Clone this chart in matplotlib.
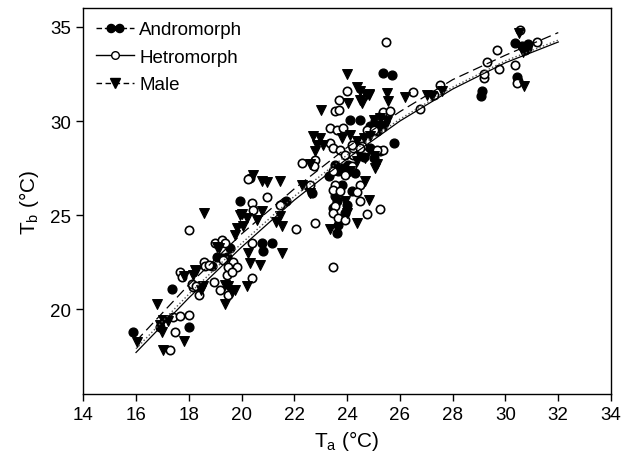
import matplotlib
matplotlib.use("Agg")
import matplotlib.pyplot as plt
from matplotlib.lines import Line2D
from matplotlib.path import Path

plt.rcParams['font.family'] = ['Liberation Sans', 'DejaVu Sans']
plt.rcParams['mathtext.default'] = 'regular'

# --- data (Ta, Tb in deg C) ---
andro_ta = [15.89, 16.92, 17.99, 17.36, 18.87, 19.06, 19.25, 19.44, 19.57, 19.95,
            20.77, 21.14, 20.83, 21.69, 22.66, 23.55, 23.67, 23.86, 24.05, 24.11,
            24.47, 24.87, 25.06, 25.22, 25.12, 25.78, 25.37, 25.69, 23.55, 23.61,
            23.48, 23.67, 23.61, 23.99, 23.92, 24.30, 24.36, 24.62, 24.87, 25.00,
            25.25, 23.80, 24.20, 23.30, 29.10, 29.06, 30.45, 30.48, 30.36, 30.61,
            30.74, 30.83, 30.87]
andro_tb = [18.78, 19.08, 19.08, 21.08, 22.32, 22.75, 22.71, 22.80, 23.24, 25.76,
            23.51, 23.51, 23.10, 25.76, 26.17, 27.68, 27.33, 27.50, 27.68, 30.07,
            30.07, 29.72, 29.98, 29.80, 29.45, 28.83, 32.55, 32.43, 26.00, 25.73,
            25.37, 24.48, 24.04, 25.55, 25.10, 27.23, 28.21, 28.07, 28.56, 28.03,
            28.39, 26.60, 26.30, 27.10, 31.58, 31.31, 32.32, 32.11, 34.15, 33.97,
            33.79, 33.88, 34.10]

hetro_ta = [17.30, 17.48, 17.40, 17.65, 17.99, 17.67, 17.74, 17.99, 18.15, 18.37,
            18.12, 18.28, 18.58, 18.62, 18.75, 19.00, 19.25, 19.38, 19.30, 18.94,
            19.19, 19.50, 19.44, 19.69, 19.82, 19.50, 19.63, 20.39, 20.43, 20.96,
            20.39, 20.39, 20.33, 20.26, 21.46, 22.28, 22.53, 22.07, 22.79, 23.48,
            22.60, 22.79, 22.75, 23.99, 23.71, 23.55, 23.71, 23.36, 23.61, 23.86,
            23.36, 23.48, 23.73, 23.92, 24.24, 24.24, 24.55, 24.74, 25.00, 25.48,
            25.37, 25.63, 25.19, 26.48, 27.29, 27.50, 26.77, 23.48, 23.55, 23.48,
            23.73, 23.55, 23.48, 23.67, 23.92, 24.49, 24.76, 25.25, 24.49, 24.36,
            24.18, 23.92, 24.49, 24.18, 25.37, 25.12, 29.17, 29.17, 29.29, 29.69,
            29.77, 30.36, 30.45, 30.55, 31.18]
hetro_tb = [17.84, 18.78, 19.60, 19.66, 19.70, 22.00, 21.73, 24.22, 21.20, 20.76,
            21.33, 21.21, 22.53, 22.32, 22.36, 23.50, 23.69, 23.50, 22.60, 21.47,
            21.03, 20.76, 21.82, 22.53, 22.22, 22.22, 22.00, 25.64, 25.28, 25.94,
            23.51, 21.65, 26.97, 26.94, 25.55, 27.77, 26.53, 24.28, 24.57, 22.22,
            26.62, 27.94, 27.59, 31.58, 31.13, 30.51, 30.60, 29.63, 29.54, 29.63,
            28.83, 28.56, 28.47, 28.21, 28.21, 28.56, 28.65, 29.54, 29.54, 34.20,
            30.48, 30.51, 30.20, 31.52, 31.40, 31.90, 30.64, 27.33, 26.62, 26.35,
            26.26, 25.46, 25.10, 24.84, 24.75, 25.73, 25.05, 25.34, 26.62, 26.22,
            27.59, 27.14, 28.56, 28.74, 28.47, 28.47, 32.29, 32.50, 33.14, 33.76,
            32.76, 33.00, 32.02, 34.86, 34.20]

male_ta = [16.03, 17.02, 16.79, 16.98, 16.92, 17.04, 17.80, 17.23, 17.80, 18.28,
           18.15, 18.58, 18.24, 18.47, 18.53, 19.13, 19.06, 19.38, 19.63, 19.38,
           19.76, 19.50, 20.01, 20.20, 20.77, 20.70, 20.20, 20.33, 20.25, 20.45,
           20.77, 20.98, 21.46, 22.28, 22.60, 21.44, 21.31, 21.52, 19.95, 20.58,
           19.82, 20.07, 19.76, 21.52, 24.01, 23.00, 24.37, 24.49, 24.81, 24.49,
           24.56, 24.05, 24.72, 24.84, 25.50, 25.56, 26.20, 27.02, 27.20, 27.58,
           22.72, 22.98, 22.85, 23.10, 22.79, 23.80, 24.11, 24.36, 24.62, 24.87,
           22.60, 24.11, 24.36, 24.68, 25.00, 25.06, 25.00, 25.25, 25.44, 25.50,
           23.36, 23.92, 24.36, 23.99, 24.81, 24.68, 25.12, 30.70, 30.52, 30.65,
           30.74]
male_tb = [18.24, 17.84, 20.27, 18.81, 19.18, 19.43, 18.30, 19.35, 21.79, 22.03,
           21.82, 25.10, 22.09, 21.03, 21.21, 23.24, 23.33, 21.29, 20.94, 20.27,
           21.03, 21.21, 25.05, 24.84, 25.20, 22.36, 21.21, 22.45, 22.98, 27.15,
           26.79, 26.76, 26.83, 26.62, 26.17, 24.93, 24.66, 24.40, 24.98, 24.75,
           24.31, 24.40, 23.95, 22.98, 32.50, 30.60, 31.79, 31.58, 31.40, 31.13,
           30.96, 30.96, 31.37, 31.44, 31.49, 31.04, 31.26, 31.37, 31.31, 31.61,
           29.18, 29.10, 28.71, 28.71, 28.39, 29.10, 29.27, 28.92, 29.10, 29.18,
           27.70, 27.33, 27.86, 28.03, 28.12, 27.50, 30.07, 30.16, 29.72, 29.98,
           24.27, 25.73, 24.57, 25.10, 25.81, 26.79, 27.71, 31.85, 34.68, 33.67,
           33.88]

# fitted curves, read at a few Ta values
fit_ta = [16, 18, 20, 22, 24, 26, 28, 30, 32]
fit_andro = [17.9, 20.8, 23.5, 26.0, 28.2, 30.1, 31.8, 33.2, 34.3]
fit_hetro = [17.7, 20.6, 23.3, 25.8, 28.0, 30.0, 31.7, 33.1, 34.2]
fit_male = [18.3, 21.3, 24.0, 26.4, 28.6, 30.5, 32.2, 33.5, 34.7]

fig = plt.figure(figsize=(6.21, 4.56), dpi=100)
ax = fig.add_axes([0.134, 0.134, 0.85, 0.846])

ax.scatter(andro_ta, andro_tb, s=40, marker='o', facecolor='black', edgecolor='black', lw=1, zorder=3)
ax.scatter(hetro_ta, hetro_tb, s=36, marker='o', facecolor='white', edgecolor='black', lw=1.2, zorder=3)
ax.scatter(male_ta, male_tb, s=50, marker='v', facecolor='black', edgecolor='black', lw=0.8, zorder=3)

ax.plot(fit_ta, fit_andro, color='#555555', lw=1.0, ls=':', zorder=4)
ax.plot(fit_ta, fit_hetro, color='black', lw=0.9, ls='-', zorder=4)
ax.plot(fit_ta, fit_male, color='black', lw=0.9, dashes=(8, 4), zorder=4)

ax.set_xlim(14, 34)
ax.set_ylim(15.5, 36.0)
ax.set_xticks(range(14, 35, 2))
ax.set_yticks([20, 25, 30, 35])
ax.tick_params(direction='out', length=5, width=1, labelsize=13.5, top=False, right=False)
for sp in ax.spines.values():
    sp.set_linewidth(1)

ax.set_xlabel('T$_a$ (°C)', fontsize=15, labelpad=4)
ax.set_ylabel('T$_b$ (°C)', fontsize=15, labelpad=7)

# legend proxies; andromorph entry shows two dots side by side
two_dots = Path.make_compound_path(Path.circle((-1.05, 0), 1.0), Path.circle((1.05, 0), 1.0))
h_andro = Line2D([], [], color='black', lw=1, dashes=(4, 2), marker=two_dots, ms=12, mfc='black', mec='black')
h_hetro = Line2D([], [], color='black', lw=1, ls='-', marker='o', ms=5.5, mfc='white', mec='black')
h_male = Line2D([], [], color='black', lw=1, dashes=(4, 2.5), marker='v', ms=6.5, mfc='black', mec='black')
ax.legend([h_andro, h_hetro, h_male], ['Andromorph', 'Hetromorph', 'Male'],
          loc='upper left', frameon=False, fontsize=13.5, handlelength=2.0,
          handletextpad=0.3, borderaxespad=0.3, labelspacing=0.55, numpoints=1)

fig.savefig('out.png', dpi=100)
